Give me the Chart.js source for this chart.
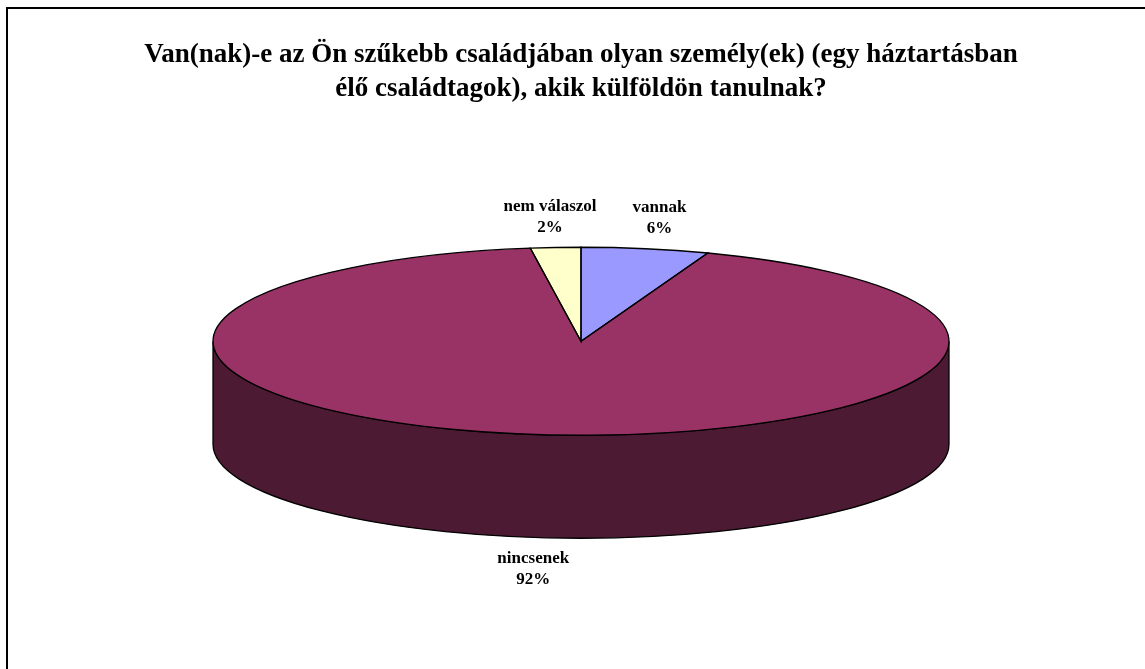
<!DOCTYPE html>
<html>
<head>
<meta charset="utf-8">
<script src="https://cdn.jsdelivr.net/npm/chart.js@4.4.1/dist/chart.umd.min.js"></script>
<style>
  html, body { margin: 0; padding: 0; background: #fff; overflow: hidden; }
  #frame { position: absolute; left: 6px; top: 7px; width: 1300px; height: 800px; border: 2px solid #000; }
  #chart { position: absolute; left: 0; top: 0; }
</style>
</head>
<body>
<div id="frame"></div>
<canvas id="chart" width="1145" height="669"></canvas>
<script>
// data
const categories = ['vannak', 'nincsenek', 'nem válaszol'];
const shares = [5.6, 92.2, 2.2];
const topColors = ['#9999FF', '#993366', '#FFFFCC'];
const sideColors = ['#4D4D80', '#4D1A33', '#808066'];
const titleLines = [
    'Van(nak)-e az Ön szűkebb családjában olyan személy(ek) (egy háztartásban',
    'élő családtagok), akik külföldön tanulnak?'
];

// 3d look
const radiusX = 368;
const squash = 94 / 368;
const depth = 103;

function overlap(a, b, lo, hi) {
    const s = Math.max(a, lo), e = Math.min(b, hi);
    return e > s ? [s, e] : null;
}

const pie3d = {
    id: 'pie3d',
    beforeDatasetsDraw(chart) {
        const ctx = chart.ctx;
        const arcs = chart.getDatasetMeta(0).data;
        const { x, y, outerRadius } = arcs[0];
        const ry = outerRadius * squash;

        // side walls, only the front half is visible
        ctx.save();
        ctx.lineWidth = 1.3;
        ctx.strokeStyle = '#000';
        arcs.forEach((arc, i) => {
            [[0, Math.PI], [2 * Math.PI, 3 * Math.PI]].forEach(([lo, hi]) => {
                const r = overlap(arc.startAngle, arc.endAngle, lo, hi);
                if (!r) return;
                ctx.beginPath();
                ctx.ellipse(x, y, outerRadius, ry, 0, r[0], r[1]);
                ctx.ellipse(x, y + depth, outerRadius, ry, 0, r[1], r[0], true);
                ctx.closePath();
                ctx.fillStyle = sideColors[i];
                ctx.fill();
                ctx.stroke();
            });
        });
        ctx.restore();

        // flatten the pie top
        ctx.save();
        ctx.translate(0, y);
        ctx.scale(1, squash);
        ctx.translate(0, -y);
    },
    afterDatasetsDraw(chart) {
        const ctx = chart.ctx;
        ctx.restore();
        const arcs = chart.getDatasetMeta(0).data;
        ctx.save();
        ctx.lineWidth = 1.3;
        ctx.strokeStyle = '#000';
        arcs.forEach(arc => {
            const ry = arc.outerRadius * squash;
            ctx.beginPath();
            ctx.moveTo(arc.x, arc.y);
            ctx.ellipse(arc.x, arc.y, arc.outerRadius, ry, 0, arc.startAngle, arc.endAngle);
            ctx.closePath();
            ctx.stroke();
        });
        ctx.restore();
    },
    afterDraw(chart) {
        const ctx = chart.ctx;
        const arcs = chart.getDatasetMeta(0).data;
        const total = shares.reduce((a, b) => a + b, 0);
        ctx.save();
        ctx.font = 'bold 17px "Liberation Serif", "Times New Roman", serif';
        ctx.fillStyle = '#000';
        ctx.textAlign = 'center';
        ctx.textBaseline = 'middle';
        arcs.forEach((arc, i) => {
            const mid = (arc.startAngle + arc.endAngle) / 2;
            const ry = arc.outerRadius * squash;
            const sin = Math.sin(mid);
            const px = arc.x + (arc.outerRadius + 80) * Math.cos(mid);
            const pct = Math.round(shares[i] / total * 100) + '%';
            if (sin < 0) {
                const py = arc.y + ry * sin;
                ctx.fillText(categories[i], px, py - 41);
                ctx.fillText(pct, px, py - 20);
            } else {
                const py = arc.y + ry * sin + depth;
                ctx.fillText(categories[i], px, py + 21);
                ctx.fillText(pct, px, py + 42);
            }
        });
        ctx.restore();
    }
};

new Chart(document.getElementById('chart'), {
    type: 'pie',
    data: {
        labels: categories,
        datasets: [{
            data: shares,
            backgroundColor: topColors,
            borderWidth: 0,
            radius: radiusX
        }]
    },
    options: {
        responsive: false,
        animation: false,
        events: [],
        layout: { padding: { left: 17, right: 0, top: 0, bottom: 92 } },
        plugins: {
            legend: { display: false },
            tooltip: { enabled: false },
            title: {
                display: true,
                text: titleLines,
                color: '#000',
                font: { family: '"Liberation Serif", "Times New Roman", serif', size: 27, weight: 'bold', lineHeight: 1.25 },
                padding: { top: 38, bottom: 0 }
            }
        }
    },
    plugins: [pie3d]
});
</script>
</body>
</html>
